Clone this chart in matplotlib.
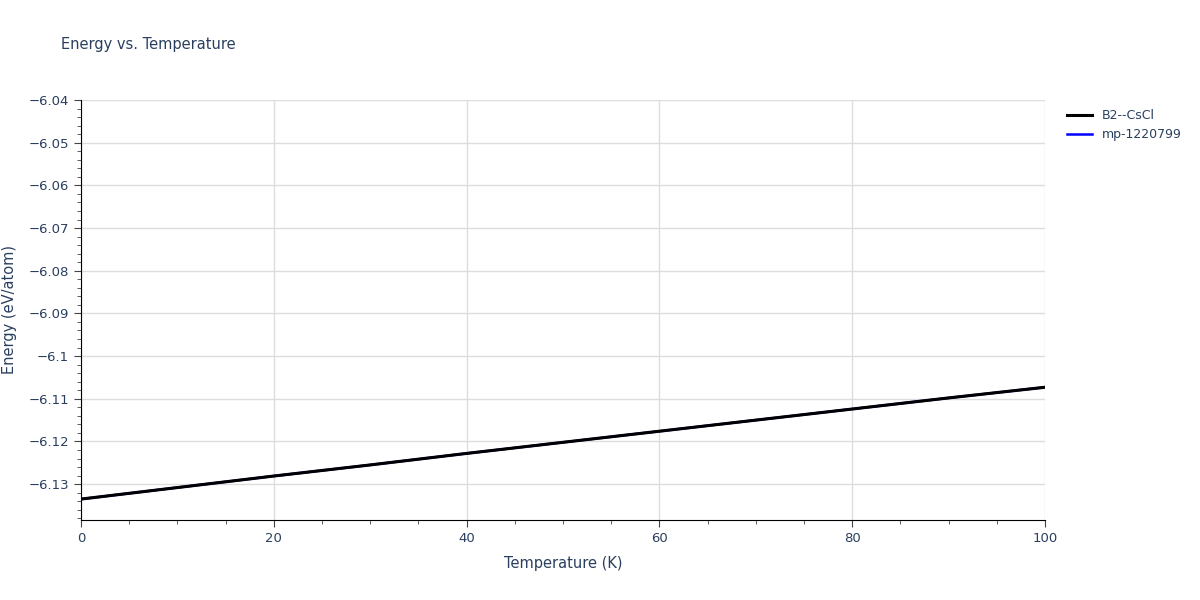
import matplotlib.pyplot as plt
from matplotlib.ticker import MultipleLocator, FuncFormatter

# donnees
temperature = [0, 10, 20, 30, 40, 50, 60, 70, 80, 90, 100]
energy_b2 = [-6.1335, -6.1308, -6.1281, -6.1255, -6.1228, -6.1202, -6.1176, -6.1150, -6.1124, -6.1098, -6.1073]
energy_mp = [-6.1335, -6.1308, -6.1281, -6.1255, -6.1228, -6.1202, -6.1176, -6.1150, -6.1124, -6.1098, -6.1073]

txt = '#2a3f5f'
fig = plt.figure(figsize=(12, 6), dpi=100)
ax = fig.add_axes([81/1200, 80/600, 964/1200, 420/600])

ax.plot(temperature, energy_mp, color='blue', lw=1.8, label='mp-1220799')
ax.plot(temperature, energy_b2, color='black', lw=2.2, label='B2--CsCl')

ax.set_xlim(0, 100)
ax.set_ylim(-6.1384, -6.04)
ax.xaxis.set_major_locator(MultipleLocator(20))
ax.xaxis.set_minor_locator(MultipleLocator(5))
ax.yaxis.set_major_locator(MultipleLocator(0.01))
ax.yaxis.set_minor_locator(MultipleLocator(0.002))

def fmt(v, pos):
    s = f'{v:.3f}'.rstrip('0').rstrip('.')
    return s.replace('-', '\u2212')
ax.yaxis.set_major_formatter(FuncFormatter(fmt))

ax.grid(True, which='major', color='#dddddd', lw=1)
ax.set_axisbelow(True)
for side in ['top', 'right']:
    ax.spines[side].set_visible(False)
for side in ['left', 'bottom']:
    ax.spines[side].set_color('black')
ax.tick_params(which='both', colors='#444444', labelcolor=txt, labelsize=9.5)
ax.tick_params(which='major', length=5)
ax.tick_params(which='minor', length=3)

ax.set_xlabel('Temperature (K)', color=txt, fontsize=10.5, labelpad=8)
ax.set_ylabel('Energy (eV/atom)', color=txt, fontsize=10.5, labelpad=8)
fig.text(61/1200, 1 - 45/600, 'Energy vs. Temperature', color=txt, fontsize=10.5, va='center')

h, l = ax.get_legend_handles_labels()
fig.legend(h[::-1], l[::-1], loc='upper left', bbox_to_anchor=(1062/1200, 1 - 104/600),
           frameon=False, fontsize=9, labelcolor=txt, handlelength=2, borderaxespad=0)

fig.savefig('out.png')
